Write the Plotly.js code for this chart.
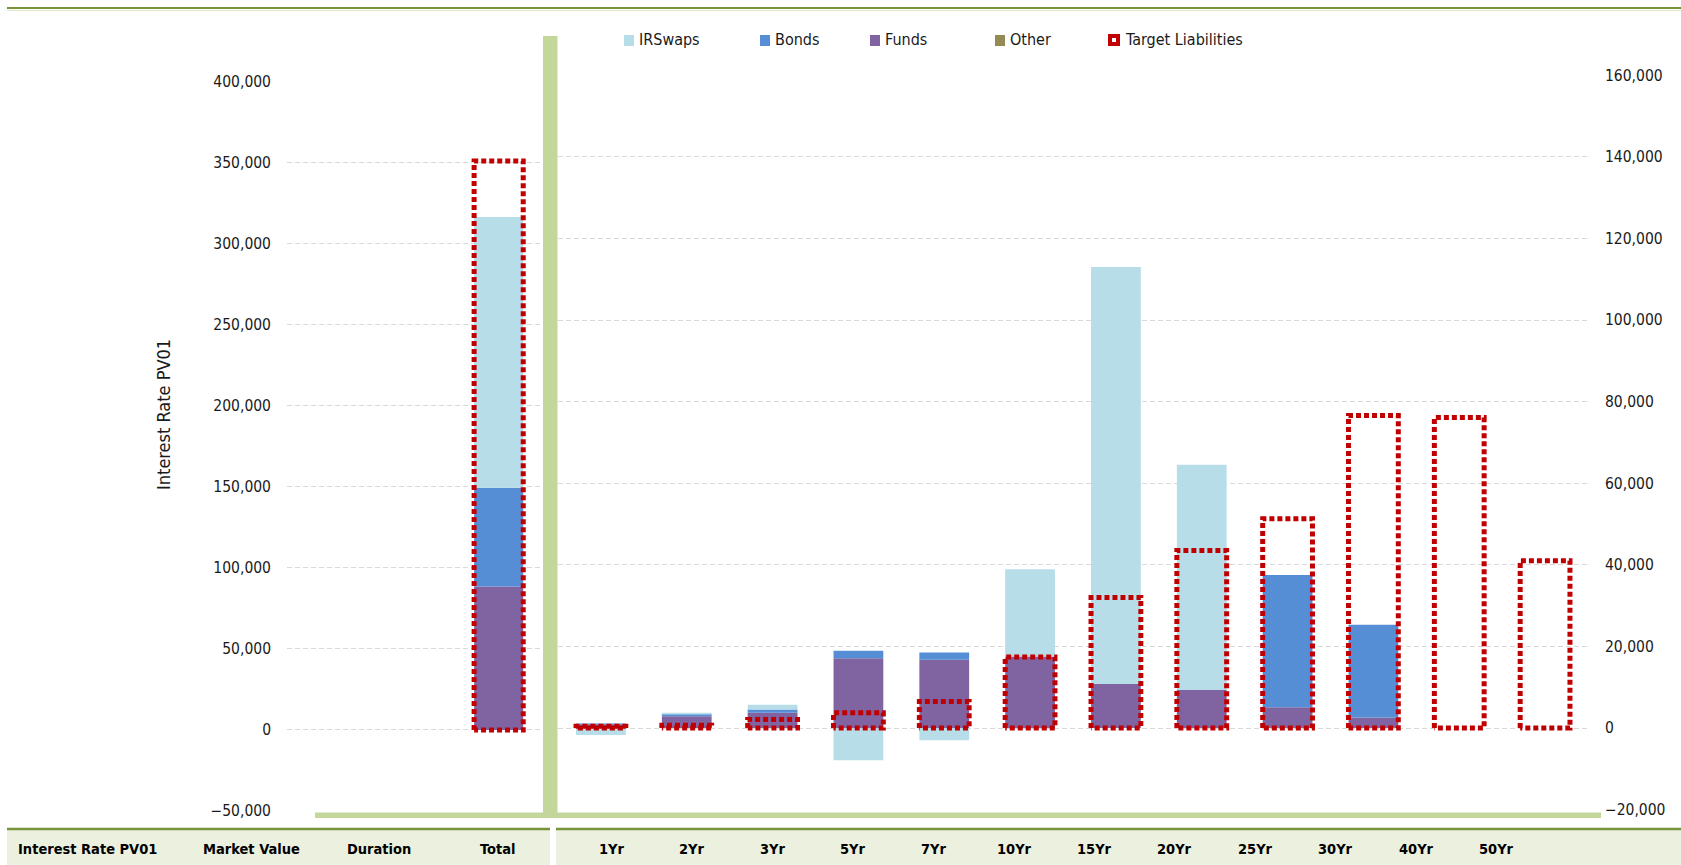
<!DOCTYPE html>
<html>
<head>
<meta charset="utf-8">
<script src="https://cdn.plot.ly/plotly-3.0.1.min.js"></script>
<style>
  html, body { margin: 0; padding: 0; background: #ffffff; }
  #chart { width: 1681px; height: 865px; }
</style>
</head>
<body>
<div id="chart"></div>
<script>
// ---------------- DATA ----------------
const seriesNames = ['IRSwaps', 'Bonds', 'Funds', 'Other', 'Target Liabilities'];

// Left panel (left axis)
const totalCategories = ['Market Value', 'Duration', 'Total'];
const totalIRSwaps = [null, null, 167000];
const totalBonds   = [null, null, 61000];
const totalFunds   = [null, null, 88500];
const totalOther   = [null, null, 0];
const totalTarget  = [null, null, 351000];

// Right panel (right axis)
const categories = ['1Yr', '2Yr', '3Yr', '5Yr', '7Yr', '10Yr', '15Yr', '20Yr', '25Yr', '30Yr', '40Yr', '50Yr'];
const irswaps = [-1700, 400, 1150, -7900, -3000, 21400, 102200, 55200, 0, 0, 0, 0];
const bonds   = [200, 500, 800, 1850, 1800, 0, 0, 0, 32400, 22700, 0, 0];
const funds   = [900, 2850, 3750, 17100, 16700, 17500, 10800, 9300, 5100, 2600, 0, 0];
const other   = [0, 0, 0, 0, 0, 0, 0, 0, 0, 0, 0, 0];
const targetLiabilities = [400, 700, 2100, 3750, 6500, 17400, 32000, 43500, 51300, 76600, 76100, 41000];

// Table row labels
const tableLeftLabels = ['Interest Rate PV01', 'Market Value', 'Duration', 'Total'];
const tableRightLabels = categories;

// Axis ticks
const leftTicks = [-50000, 0, 50000, 100000, 150000, 200000, 250000, 300000, 350000, 400000];
const rightTicks = [-20000, 0, 20000, 40000, 60000, 80000, 100000, 120000, 140000, 160000];
const yTitle = 'Interest Rate PV01';

// ---------------- STYLE ----------------
const colors = { IRSwaps: '#b7dde8', Bonds: '#558ed5', Funds: '#8064a2', Other: '#948a54', Target: '#c00000' };
const FONT = "'DejaVu Sans Condensed', 'Liberation Sans', sans-serif";
const TXT = '#1a1a1a';
const W = 1681, H = 865;
const PX = p => p / W;
const PY = p => 1 - p / H;
const BAR_W = 0.58;
const BOX_W = 0.58;

function idx(arr) { return arr.map((_, i) => i); }

function boxPath(values, w) {
  const xs = [], ys = [];
  values.forEach((v, i) => {
    if (v === null || v === undefined || v <= 0) return;
    xs.push(i - w / 2, i - w / 2, i + w / 2, i + w / 2, i - w / 2, null);
    ys.push(0, v, v, 0, 0, null);
  });
  return { x: xs, y: ys };
}

function barTrace(name, xs, ys, color, xa, ya) {
  return {
    type: 'bar', name: name, x: xs, y: ys, xaxis: xa, yaxis: ya,
    width: BAR_W, marker: { color: color, line: { width: 0 } },
    showlegend: false, hoverinfo: 'skip'
  };
}

function boxTrace(name, values, xa, ya) {
  const p = boxPath(values, BOX_W);
  return {
    type: 'scatter', mode: 'lines', name: name, x: p.x, y: p.y, xaxis: xa, yaxis: ya,
    line: { color: colors.Target, width: 5, dash: '5px,3px' },
    connectgaps: false, showlegend: false, hoverinfo: 'skip'
  };
}

const xl = idx(totalCategories);
const xr = idx(categories);

const data = [
  barTrace('Funds', xl, totalFunds, colors.Funds, 'x', 'y'),
  barTrace('Bonds', xl, totalBonds, colors.Bonds, 'x', 'y'),
  barTrace('IRSwaps', xl, totalIRSwaps, colors.IRSwaps, 'x', 'y'),
  barTrace('Other', xl, totalOther, colors.Other, 'x', 'y'),
  boxTrace('Target Liabilities', totalTarget, 'x', 'y'),
  barTrace('Funds', xr, funds, colors.Funds, 'x2', 'y2'),
  barTrace('Bonds', xr, bonds, colors.Bonds, 'x2', 'y2'),
  barTrace('IRSwaps', xr, irswaps, colors.IRSwaps, 'x2', 'y2'),
  barTrace('Other', xr, other, colors.Other, 'x2', 'y2'),
  boxTrace('Target Liabilities', targetLiabilities, 'x2', 'y2')
];

// ---------------- SHAPES ----------------
const GREEN_DARK = '#77933c';
const GREEN_LIGHT = '#c4d79b';
const TABLE_BG = '#ebf1de';
function rectPx(x0, y0, x1, y1, fill, layer) {
  return { type: 'rect', xref: 'paper', yref: 'paper', x0: PX(x0), x1: PX(x1), y0: PY(y1), y1: PY(y0),
           fillcolor: fill, line: { width: 0 }, layer: layer || 'above' };
}
function linePx(x0, y0, x1, y1, color, width) {
  return { type: 'line', xref: 'paper', yref: 'paper', x0: PX(x0), x1: PX(x1), y0: PY(y0), y1: PY(y1),
           line: { color: color, width: width }, layer: 'above' };
}

const shapes = [
  linePx(7, 8, W, 8, GREEN_DARK, 2),
  linePx(7, 10.5, W, 10.5, '#dfe8cc', 1),
  rectPx(543, 36, 557.5, 818, GREEN_LIGHT),
  rectPx(315, 812.5, 543, 818, GREEN_LIGHT),
  rectPx(557, 812.5, 1601, 818, GREEN_LIGHT),
  rectPx(7, 829, 550, H, TABLE_BG, 'below'),
  rectPx(556, 829, W, H, TABLE_BG, 'below'),
  linePx(7, 829, 550, 829, GREEN_DARK, 2.5),
  linePx(556, 829, W, 829, GREEN_DARK, 2.5)
];

// Legend (manual, to match the reference spacing)
const legendMarkerX = [624, 760, 870, 995, 1108];
const legendColors = [colors.IRSwaps, colors.Bonds, colors.Funds, colors.Other, colors.Target];
const annotations = [];
seriesNames.forEach((n, i) => {
  const x0 = legendMarkerX[i];
  if (i < 4) {
    shapes.push(rectPx(x0, 35, x0 + 10, 46, legendColors[i]));
  } else {
    shapes.push(rectPx(x0, 34, x0 + 12, 46, legendColors[i]));
    shapes.push(rectPx(x0 + 4, 38, x0 + 8, 42, '#ffffff'));
  }
  annotations.push({
    xref: 'paper', yref: 'paper', x: PX(x0 + (i < 4 ? 13 : 15)), y: PY(40),
    xanchor: 'left', yanchor: 'middle', showarrow: false, text: n,
    font: { family: FONT, size: 16, color: TXT }
  });
});

// Y axis title
annotations.push({
  xref: 'paper', yref: 'paper', x: PX(164), y: PY(415), xanchor: 'center', yanchor: 'middle',
  showarrow: false, text: yTitle, textangle: -90, font: { family: FONT, size: 18, color: TXT }
});

// Table row labels
const tableLeftX = [87, 251, 379, 497];
tableLeftLabels.forEach((t, i) => {
  annotations.push({
    xref: 'paper', yref: 'paper', x: PX(tableLeftX[i]), y: PY(849), xanchor: 'center', yanchor: 'middle',
    showarrow: false, text: '<b>' + t + '</b>', font: { family: FONT, size: 14.5, color: '#000000' }
  });
});
tableRightLabels.forEach((t, i) => {
  annotations.push({
    xref: 'paper', yref: 'paper', x: PX(612 + i * 80.4), y: PY(849), xanchor: 'center', yanchor: 'middle',
    showarrow: false, text: '<b>' + t + '</b>', font: { family: FONT, size: 14.5, color: '#000000' }
  });
});

// ---------------- LAYOUT ----------------
const gridStyle = { gridcolor: '#d9d9d9', gridwidth: 1, griddash: '5px,3px' };

const layout = {
  width: W, height: H,
  margin: { l: 0, r: 0, t: 0, b: 0, pad: 0 },
  paper_bgcolor: '#ffffff', plot_bgcolor: 'rgba(0,0,0,0)',
  barmode: 'relative', showlegend: false,
  font: { family: FONT, size: 15.5, color: TXT },
  xaxis: {
    domain: [PX(287), PX(541)], range: [-0.5, totalCategories.length - 0.5], anchor: 'y',
    showticklabels: false, showgrid: false, zeroline: false, showline: false, ticks: '', fixedrange: true
  },
  yaxis: Object.assign({
    domain: [PY(811), PY(81.7)], range: [leftTicks[0], leftTicks[leftTicks.length - 1]], anchor: 'x',
    tickmode: 'array', tickvals: leftTicks, tickformat: ',', ticks: '', showline: false,
    zeroline: false, ticklabelstandoff: 15, tickfont: { family: FONT, size: 15.5, color: TXT }, fixedrange: true
  }, gridStyle),
  xaxis2: {
    domain: [PX(558), PX(1588)], range: [-0.5, categories.length - 0.5], anchor: 'y2',
    showticklabels: false, showgrid: false, zeroline: false, showline: false, ticks: '', fixedrange: true
  },
  yaxis2: Object.assign({
    domain: [PY(809.6), PY(75.2)], range: [rightTicks[0], rightTicks[rightTicks.length - 1]], anchor: 'x2',
    side: 'right', tickmode: 'array', tickvals: rightTicks, tickformat: ',', ticks: '', showline: false,
    zeroline: false, ticklabelstandoff: 16, tickfont: { family: FONT, size: 15.5, color: TXT }, fixedrange: true
  }, gridStyle),
  shapes: shapes,
  annotations: annotations
};

Plotly.newPlot('chart', data, layout, { displayModeBar: false, staticPlot: true });
</script>
</body>
</html>
